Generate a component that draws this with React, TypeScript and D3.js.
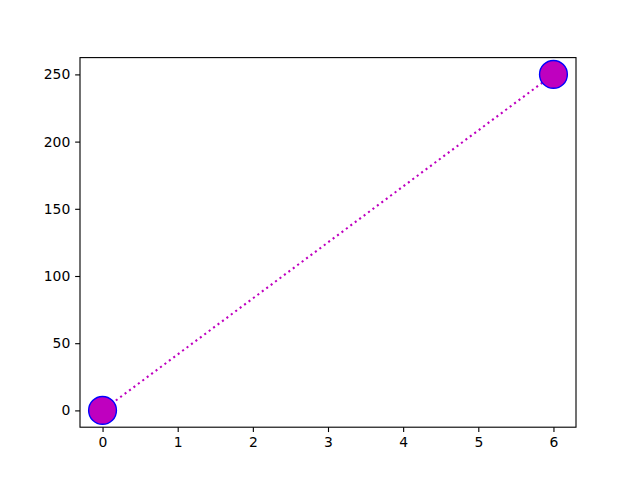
import React, { useEffect, useRef } from "react"
import * as d3 from "d3"

// data
const xValues = [0, 6]
const yValues = [0, 250]
const xTicks = [0, 1, 2, 3, 4, 5, 6]
const yTicks = [0, 50, 100, 150, 200, 250]

const width = 640
const height = 480
const margin = { left: 80, right: 64, top: 57.6, bottom: 52.8 }

export default function App() {
    const ref = useRef<SVGSVGElement>(null)

    useEffect(() => {
        const svg = d3.select(ref.current)
        svg.selectAll("*").remove()

        const innerW = width - margin.left - margin.right
        const innerH = height - margin.top - margin.bottom

        // matplotlib adds 5% margins to the data range
        const xPad = (d3.max(xValues)! - d3.min(xValues)!) * 0.05
        const yPad = (d3.max(yValues)! - d3.min(yValues)!) * 0.05
        const xScale = d3.scaleLinear()
            .domain([d3.min(xValues)! - xPad, d3.max(xValues)! + xPad])
            .range([margin.left, margin.left + innerW])
        const yScale = d3.scaleLinear()
            .domain([d3.min(yValues)! - yPad, d3.max(yValues)! + yPad])
            .range([margin.top + innerH, margin.top])

        svg.append("rect")
            .attr("width", width)
            .attr("height", height)
            .attr("fill", "white")

        const data = xValues.map((x, i) => [x, yValues[i]] as [number, number])

        const line = d3.line<[number, number]>()
            .x(d => xScale(d[0]))
            .y(d => yScale(d[1]))

        svg.append("path")
            .datum(data)
            .attr("d", line)
            .attr("fill", "none")
            .attr("stroke", "#bf00bf")
            .attr("stroke-width", 2.08)
            .attr("stroke-dasharray", "2.08 3.44")

        svg.selectAll("circle.pt")
            .data(data)
            .enter()
            .append("circle")
            .attr("class", "pt")
            .attr("cx", d => xScale(d[0]))
            .attr("cy", d => yScale(d[1]))
            .attr("r", 13.9)
            .attr("fill", "#bf00bf")
            .attr("stroke", "#0000ff")
            .attr("stroke-width", 1.39)

        const font = "DejaVu Sans, sans-serif"

        const xAxis = svg.append("g")
            .attr("transform", `translate(0,${margin.top + innerH})`)
            .call(d3.axisBottom(xScale).tickValues(xTicks).tickSize(4.86).tickPadding(4.86).tickFormat(d3.format("d")))
        const yAxis = svg.append("g")
            .attr("transform", `translate(${margin.left},0)`)
            .call(d3.axisLeft(yScale).tickValues(yTicks).tickSize(4.86).tickPadding(4.86).tickFormat(d3.format("d")))

        for (const ax of [xAxis, yAxis]) {
            ax.select(".domain").remove()
            ax.selectAll(".tick line").attr("stroke", "black").attr("stroke-width", 1.11)
            ax.selectAll(".tick text")
                .attr("fill", "black")
                .attr("font-family", font)
                .attr("font-size", 13.9)
        }

        svg.append("rect")
            .attr("x", margin.left)
            .attr("y", margin.top)
            .attr("width", innerW)
            .attr("height", innerH)
            .attr("fill", "none")
            .attr("stroke", "black")
            .attr("stroke-width", 1.11)
    }, [])

    return (
        <svg
            ref={ref}
            width={width}
            height={height}
            style={{ position: "absolute", left: 0, top: 0 }}
        />
    )
}
